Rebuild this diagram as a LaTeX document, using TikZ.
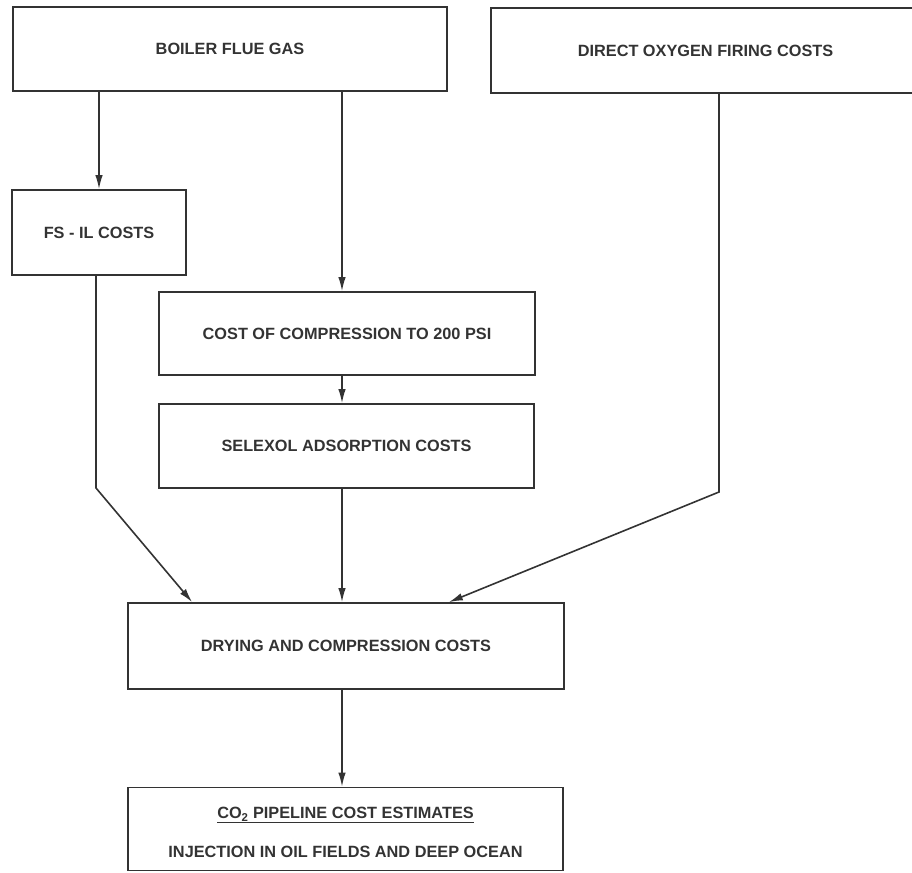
\documentclass[tikz,border=0pt]{standalone}
\usepackage{fontspec}
\setmainfont{Liberation Sans}
\usetikzlibrary{arrows.meta}
\tikzset{
  costbox/.style={draw=black!80, line width=1.7pt, inner sep=0pt, text=black!80,
    font=\bfseries\fontsize{16.3}{19}\selectfont},
  flow/.style={draw=black!80, line width=1.6pt, -{Latex[length=14pt,width=7.5pt]}}
}

\begin{document}
\begin{tikzpicture}[x=1pt, y=-1pt]
      \useasboundingbox (0,0) rectangle (912,872);

      \node[costbox, minimum width=434pt, minimum height=84pt] (boiler) at (230,49) {BOILER FLUE GAS};
      \node[costbox, minimum width=429pt, minimum height=85pt] (oxygen) at (705.5,50.5) {DIRECT OXYGEN FIRING COSTS};
      \node[costbox, minimum width=174pt, minimum height=85pt] (fsil) at (99,232.5) {FS - IL COSTS};

      \node[costbox, minimum width=376pt, minimum height=83pt] (compress) at (347,333.5) {COST OF COMPRESSION TO 200 PSI};
      \node[costbox, minimum width=375pt, minimum height=84pt] (selexol) at (346.5,446) {SELEXOL ADSORPTION COSTS};

      \node[costbox, minimum width=436pt, minimum height=86pt] (drying) at (346,646) {DRYING AND COMPRESSION COSTS};
      \node[costbox, minimum width=435pt, minimum height=83pt, align=center] (pipeline) at (345.5,829)
        {\rule{0pt}{18pt}\underline{CO\textsubscript{2} PIPELINE COST ESTIMATES}\\[20pt]INJECTION IN OIL FIELDS AND DEEP OCEAN};

      \coordinate (mid) at (342,0);
      \coordinate (lbend) at (96,488);
      \coordinate (rbend) at (719,492);

      \draw[flow] (boiler.south -| fsil.north) -- (fsil.north);
      \draw[flow] (boiler.south -| mid) -- (compress.north -| mid);
      \draw[flow] (compress.south -| mid) -- (selexol.north -| mid);
      \draw[flow] (selexol.south -| mid) -- (drying.north -| mid);
      \draw[flow] (drying.south -| mid) -- (pipeline.north -| mid);

      \draw[flow] (fsil.south -| lbend) -- (lbend) -- ([xshift=65pt]drying.north west);
      \draw[flow] (oxygen.south -| rbend) -- (rbend) -- ([xshift=-116pt]drying.north east);
    \end{tikzpicture}
\end{document}
